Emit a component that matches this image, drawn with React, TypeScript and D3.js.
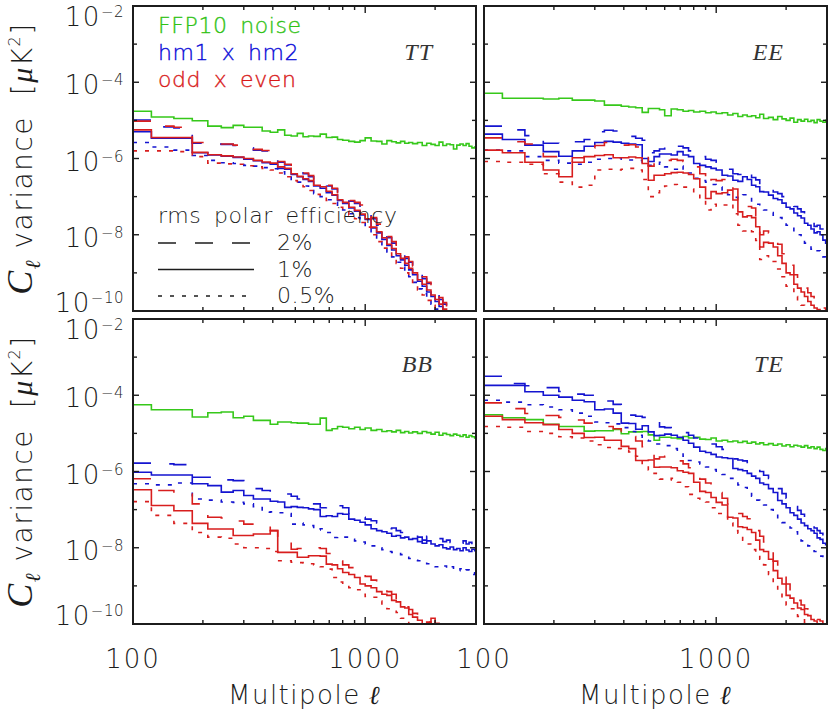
import React from 'react';
import * as d3 from 'd3';

// Multipole bin edges (ell)
const EDGES = [100,120,150,180,210,240,270,300,330,360,390,420,450,480,510,540,570,600,640,680,720,760,800,850,900,950,1000,1060,1120,1180,1240,1300,1360,1420,1480,1540,1600,1680,1760,1840,1920,2000,2080,2160,2240,2320,2400,2480,2560,2640,2720,2800,2880,2960,3040];

// log10 of C_ell variance [muK^2], one value per bin
// TT
const TT_NOISE = [-4.76,-4.91,-4.95,-5.01,-5.15,-5.19,-5.13,-5.18,-5.18,-5.28,-5.31,-5.25,-5.39,-5.41,-5.34,-5.43,-5.41,-5.42,-5.36,-5.45,-5.44,-5.50,-5.52,-5.55,-5.57,-5.53,-5.46,-5.54,-5.55,-5.62,-5.53,-5.56,-5.59,-5.55,-5.60,-5.58,-5.61,-5.58,-5.66,-5.60,-5.63,-5.66,-5.57,-5.66,-5.62,-5.64,-5.75,-5.65,-5.62,-5.66,-5.61,-5.68,-5.72,-5.70];
const TT_HM_2 = [-4.99,-5.17,-5.20,-5.60,-5.62,-5.63,-5.66,-5.72,-5.78,-5.80,-5.88,-6.10,-6.17,-6.25,-6.32,-6.40,-6.48,-6.58,-6.64,-6.72,-6.80,-6.92,-7.02,-7.12,-7.18,-7.25,-7.38,-7.58,-7.75,-7.92,-8.08,-8.22,-8.35,-8.50,-8.62,-8.72,-8.85,-9.00,-9.15,-9.28,-9.42,-9.55,-9.70,-9.82,-9.95,-10.1,-10.3];
const TT_HM_1 = [-5.30,-5.47,-5.47,-5.85,-5.91,-5.94,-5.97,-6.02,-6.06,-6.11,-6.15,-6.26,-6.28,-6.42,-6.48,-6.55,-6.60,-6.72,-6.78,-6.90,-6.96,-7.10,-7.18,-7.30,-7.38,-7.48,-7.60,-7.82,-7.95,-8.12,-8.28,-8.40,-8.55,-8.66,-8.80,-8.92,-9.05,-9.22,-9.35,-9.50,-9.62,-9.75,-9.88,-10.0,-10.15,-10.3];
const TT_HM_05 = [-5.58,-5.70,-5.78,-5.92,-6.05,-6.11,-6.13,-6.18,-6.20,-6.24,-6.27,-6.35,-6.45,-6.55,-6.62,-6.72,-6.82,-6.92,-7.00,-7.08,-7.15,-7.25,-7.35,-7.45,-7.55,-7.65,-7.78,-7.98,-8.15,-8.32,-8.45,-8.58,-8.72,-8.85,-8.98,-9.10,-9.25,-9.42,-9.55,-9.70,-9.82,-9.95,-10.1,-10.3];
const TT_OE_2 = [-5.02,-5.15,-5.18,-5.58,-5.60,-5.62,-5.65,-5.70,-5.76,-5.79,-5.86,-6.08,-6.15,-6.22,-6.30,-6.38,-6.45,-6.55,-6.60,-6.70,-6.78,-6.90,-7.00,-7.10,-7.15,-7.22,-7.35,-7.55,-7.72,-7.88,-8.05,-8.18,-8.32,-8.46,-8.58,-8.70,-8.82,-8.96,-9.10,-9.25,-9.38,-9.50,-9.65,-9.78,-9.90,-10.05,-10.2];
const TT_OE_1 = [-5.25,-5.45,-5.45,-5.84,-5.90,-5.93,-5.96,-6.00,-6.05,-6.09,-6.12,-6.22,-6.26,-6.40,-6.47,-6.53,-6.58,-6.70,-6.74,-6.86,-6.95,-7.08,-7.15,-7.28,-7.36,-7.46,-7.58,-7.80,-7.92,-8.08,-8.25,-8.36,-8.50,-8.62,-8.75,-8.88,-9.00,-9.18,-9.30,-9.45,-9.58,-9.70,-9.82,-9.95,-10.1,-10.25];
const TT_OE_05 = [-5.80,-5.80,-5.82,-5.95,-6.12,-6.14,-6.15,-6.19,-6.22,-6.26,-6.30,-6.38,-6.48,-6.58,-6.65,-6.74,-6.84,-6.94,-7.02,-7.10,-7.18,-7.28,-7.38,-7.48,-7.58,-7.68,-7.80,-8.00,-8.18,-8.35,-8.48,-8.62,-8.75,-8.88,-9.00,-9.12,-9.28,-9.45,-9.58,-9.72,-9.85,-10.0,-10.15];
// EE
const EE_NOISE = [-4.29,-4.42,-4.42,-4.44,-4.42,-4.47,-4.47,-4.49,-4.60,-4.60,-4.63,-4.65,-4.67,-4.79,-4.69,-4.69,-4.72,-4.88,-4.70,-4.72,-4.76,-4.74,-4.78,-4.76,-4.80,-4.78,-4.82,-4.80,-4.86,-4.82,-4.90,-4.86,-4.90,-4.88,-4.93,-4.84,-4.95,-4.92,-4.98,-4.90,-4.96,-5.00,-4.94,-5.05,-4.98,-5.02,-4.97,-5.03,-5.00,-5.06,-4.98,-5.02,-5.05,-5.00];
const EE_HM_2 = [-5.15,-5.25,-5.40,-5.60,-5.62,-5.56,-5.50,-5.30,-5.26,-5.28,-5.35,-5.42,-5.47,-5.52,-5.85,-5.80,-5.75,-5.65,-5.62,-5.68,-5.72,-5.80,-5.90,-5.95,-6.02,-6.05,-6.10,-6.22,-6.28,-6.40,-6.42,-6.30,-6.35,-6.50,-6.56,-6.70,-6.72,-6.80,-6.88,-6.92,-7.00,-7.10,-7.15,-7.26,-7.32,-7.40,-7.52,-7.58,-7.68,-7.78,-7.75,-7.85,-7.96,-8.02];
const EE_HM_1 = [-5.36,-5.50,-5.65,-5.82,-5.94,-5.80,-5.68,-5.58,-5.55,-5.57,-5.60,-5.62,-5.64,-6.00,-6.08,-5.95,-5.88,-5.88,-5.91,-5.82,-5.91,-5.95,-6.13,-6.18,-6.22,-6.26,-6.30,-6.44,-6.46,-6.57,-6.60,-6.48,-6.55,-6.70,-6.74,-6.87,-6.88,-6.96,-7.05,-7.08,-7.17,-7.28,-7.32,-7.43,-7.50,-7.56,-7.70,-7.75,-7.85,-7.95,-7.92,-8.00,-8.14,-8.22];
const EE_HM_05 = [-5.78,-5.80,-5.95,-6.05,-6.12,-6.15,-6.10,-6.02,-6.00,-5.98,-6.02,-6.04,-6.05,-6.12,-6.18,-6.15,-6.10,-6.22,-6.28,-6.20,-6.30,-6.38,-6.52,-6.58,-6.62,-6.68,-6.75,-6.90,-6.95,-7.02,-7.05,-6.95,-7.02,-7.15,-7.20,-7.32,-7.35,-7.42,-7.52,-7.55,-7.65,-7.75,-7.80,-7.92,-8.00,-8.08,-8.22,-8.28,-8.38,-8.45,-8.42,-8.50,-8.58,-8.62];
const EE_OE_2 = [-5.46,-5.56,-5.62,-5.95,-6.08,-5.98,-5.72,-5.66,-5.58,-5.62,-5.65,-5.64,-5.70,-5.80,-6.20,-6.08,-6.10,-6.05,-6.02,-6.05,-6.08,-6.12,-6.22,-6.40,-6.70,-6.55,-6.58,-6.55,-6.50,-6.80,-7.10,-7.30,-7.26,-7.30,-7.50,-8.00,-7.90,-7.95,-8.05,-8.25,-8.50,-8.72,-8.80,-9.05,-9.15,-9.28,-9.40,-9.52,-9.62,-9.70,-9.78,-9.85,-9.92,-10.0];
const EE_OE_1 = [-5.78,-5.85,-6.10,-6.30,-6.48,-6.10,-5.95,-5.92,-5.90,-5.98,-5.98,-5.96,-5.98,-6.13,-6.57,-6.44,-6.44,-6.40,-6.37,-6.36,-6.38,-6.42,-6.53,-6.75,-7.05,-6.87,-6.92,-6.90,-6.83,-7.09,-7.40,-7.53,-7.50,-7.55,-7.79,-8.32,-8.20,-8.22,-8.32,-8.55,-8.75,-9.00,-9.05,-9.30,-9.40,-9.50,-9.62,-9.75,-9.85,-9.92,-9.96,-10.0,-10.05,-10.1];
const EE_OE_05 = [-6.08,-6.10,-6.15,-6.40,-6.62,-6.75,-6.70,-6.30,-6.28,-6.30,-6.28,-6.26,-6.30,-6.55,-7.00,-6.90,-6.80,-6.72,-6.68,-6.70,-6.75,-6.80,-6.90,-7.10,-7.35,-7.20,-7.25,-7.22,-7.18,-7.45,-7.75,-7.90,-7.85,-7.92,-8.15,-8.65,-8.55,-8.60,-8.70,-8.90,-9.10,-9.35,-9.40,-9.62,-9.75,-9.85,-9.95,-10.05,-10.1];
// BB
const BB_NOISE = [-4.25,-4.38,-4.38,-4.57,-4.46,-4.44,-4.59,-4.55,-4.66,-4.66,-4.76,-4.70,-4.70,-4.72,-4.73,-4.73,-4.76,-4.76,-4.60,-4.92,-4.88,-4.82,-4.84,-4.88,-4.84,-4.90,-4.86,-4.92,-4.90,-4.95,-4.93,-4.96,-4.92,-4.98,-4.95,-4.99,-4.96,-5.00,-4.95,-4.98,-5.02,-4.97,-5.05,-5.00,-5.03,-5.06,-5.02,-5.05,-5.08,-5.04,-5.10,-5.06,-5.09,-5.12];
const BB_HM_2 = [-5.78,-5.80,-5.82,-6.15,-6.15,-6.22,-6.24,-6.35,-6.45,-6.50,-6.55,-6.58,-6.59,-6.65,-6.72,-6.80,-6.78,-6.85,-6.95,-6.92,-6.98,-6.90,-6.95,-7.10,-7.16,-7.20,-7.25,-7.29,-7.35,-7.42,-7.50,-7.48,-7.55,-7.60,-7.58,-7.66,-7.68,-7.72,-7.80,-7.70,-7.78,-7.82,-7.76,-7.84,-7.80,-7.86,-7.78,-7.85,-7.88,-7.82,-7.90,-7.86,-7.92,-7.88];
const BB_HM_1 = [-6.02,-6.09,-6.09,-6.32,-6.37,-6.54,-6.50,-6.63,-6.72,-6.72,-6.78,-6.80,-6.94,-6.92,-6.94,-6.95,-6.98,-7.00,-7.18,-7.16,-7.18,-7.10,-7.12,-7.25,-7.28,-7.33,-7.40,-7.50,-7.55,-7.58,-7.62,-7.70,-7.68,-7.74,-7.72,-7.78,-7.76,-7.84,-7.88,-7.82,-7.90,-7.95,-7.92,-8.00,-8.03,-7.98,-8.05,-8.02,-8.08,-8.00,-8.06,-8.10,-8.04,-8.08];
const BB_HM_05 = [-6.32,-6.35,-6.30,-6.72,-6.75,-6.80,-6.81,-6.85,-6.92,-7.07,-7.06,-7.08,-7.10,-7.38,-7.35,-7.40,-7.42,-7.53,-7.50,-7.60,-7.73,-7.70,-7.72,-7.78,-7.82,-7.85,-7.90,-7.95,-8.00,-8.05,-8.10,-8.12,-8.15,-8.18,-8.22,-8.28,-8.32,-8.34,-8.38,-8.42,-8.45,-8.50,-8.52,-8.48,-8.55,-8.50,-8.56,-8.60,-8.55,-8.62,-8.58,-8.65,-8.70,-8.62];
const BB_OE_2 = [-6.19,-6.50,-6.59,-6.85,-7.20,-7.22,-7.30,-7.38,-7.38,-7.40,-7.55,-7.70,-7.85,-8.04,-8.02,-7.98,-8.00,-8.00,-8.02,-8.15,-8.30,-8.35,-8.45,-8.52,-8.55,-8.62,-8.75,-8.85,-8.95,-9.05,-9.15,-9.22,-9.35,-9.44,-9.55,-9.62,-9.72,-9.85,-9.90,-9.95,-9.85,-10.0,-9.95,-10.1];
const BB_OE_1 = [-6.48,-6.89,-7.03,-7.36,-7.51,-7.51,-7.68,-7.68,-7.64,-7.64,-7.55,-8.12,-8.12,-8.12,-8.25,-8.25,-8.21,-8.21,-8.22,-8.43,-8.45,-8.55,-8.65,-8.70,-8.78,-8.95,-9.00,-9.05,-9.15,-9.22,-9.25,-9.38,-9.42,-9.55,-9.58,-9.75,-9.82,-9.90,-10.0,-9.95,-10.05,-9.98,-10.1,-10.05,-10.2];
const BB_OE_05 = [-6.79,-7.15,-7.36,-7.60,-7.72,-7.75,-7.90,-8.00,-8.00,-8.02,-8.10,-8.34,-8.34,-8.38,-8.39,-8.40,-8.42,-8.45,-8.50,-8.56,-8.78,-8.90,-8.97,-9.05,-9.10,-9.22,-9.28,-9.30,-9.40,-9.50,-9.60,-9.62,-9.70,-9.85,-9.90,-10.0,-10.05,-10.1];
// TE
const TE_NOISE = [-4.51,-4.59,-4.64,-4.76,-4.82,-4.82,-4.94,-4.93,-4.93,-4.90,-5.01,-4.96,-4.96,-4.95,-5.04,-5.18,-5.10,-5.10,-5.12,-5.14,-5.08,-5.12,-5.10,-5.15,-5.16,-5.12,-5.20,-5.18,-5.22,-5.20,-5.24,-5.21,-5.26,-5.23,-5.28,-5.25,-5.30,-5.27,-5.31,-5.28,-5.33,-5.30,-5.35,-5.31,-5.33,-5.36,-5.32,-5.38,-5.35,-5.40,-5.36,-5.42,-5.45,-5.40];
const TE_HM_2 = [-3.50,-3.69,-3.75,-3.80,-3.90,-3.97,-4.00,-4.05,-4.15,-4.24,-4.40,-4.52,-4.55,-4.58,-4.57,-4.60,-4.83,-4.85,-4.88,-4.90,-4.98,-5.05,-5.12,-5.18,-5.22,-5.28,-5.35,-5.42,-5.50,-5.67,-5.70,-5.72,-5.76,-5.80,-5.88,-6.00,-6.10,-6.18,-6.30,-6.45,-6.58,-6.70,-6.80,-6.92,-7.02,-7.12,-7.20,-7.30,-7.40,-7.48,-7.55,-7.62,-7.72,-7.80];
const TE_HM_1 = [-3.74,-3.74,-3.91,-4.00,-4.05,-4.13,-4.17,-4.38,-4.36,-4.47,-4.73,-4.74,-4.89,-4.80,-4.96,-5.06,-5.05,-5.02,-5.05,-5.10,-5.18,-5.26,-5.36,-5.47,-5.50,-5.55,-5.62,-5.64,-5.66,-5.92,-5.95,-5.98,-6.05,-6.12,-6.18,-6.30,-6.34,-6.45,-6.55,-6.76,-6.85,-6.95,-7.08,-7.15,-7.25,-7.35,-7.42,-7.50,-7.55,-7.62,-7.74,-7.78,-7.88,-7.92];
const TE_HM_05 = [-4.13,-4.18,-4.25,-4.31,-4.38,-4.47,-4.55,-4.70,-4.72,-4.75,-4.85,-4.95,-5.05,-5.18,-5.20,-5.28,-5.30,-5.32,-5.40,-5.50,-5.60,-5.71,-5.75,-5.80,-5.88,-5.95,-6.02,-6.08,-6.18,-6.28,-6.35,-6.42,-6.55,-6.65,-6.75,-6.80,-6.88,-7.00,-7.10,-7.25,-7.34,-7.40,-7.48,-7.58,-7.70,-7.82,-7.90,-7.95,-8.02,-8.10,-8.18,-8.22,-8.28,-8.25];
const TE_OE_2 = [-4.20,-4.35,-4.48,-4.53,-4.58,-4.65,-4.73,-4.76,-4.82,-4.88,-4.95,-5.08,-5.20,-5.35,-5.45,-5.67,-5.62,-5.60,-5.65,-5.72,-5.80,-5.90,-6.05,-6.20,-6.30,-6.45,-6.55,-6.70,-6.85,-6.95,-7.10,-7.18,-7.24,-7.45,-7.55,-7.70,-7.85,-8.05,-8.35,-8.55,-8.75,-8.95,-9.10,-9.25,-9.38,-9.50,-9.60,-9.68,-9.75,-9.80,-9.88,-9.92,-10.0,-10.05];
const TE_OE_1 = [-4.55,-4.64,-4.72,-4.77,-4.90,-5.00,-5.11,-5.10,-5.18,-5.18,-5.34,-5.40,-5.71,-5.71,-5.70,-5.89,-5.88,-5.88,-5.90,-5.98,-6.02,-6.05,-6.28,-6.52,-6.55,-6.68,-6.81,-6.88,-7.20,-7.22,-7.45,-7.47,-7.52,-7.60,-7.80,-8.05,-8.10,-8.30,-8.60,-8.80,-8.95,-9.25,-9.32,-9.45,-9.58,-9.62,-9.75,-9.78,-9.88,-9.92,-10.0,-10.02,-10.08,-10.1];
const TE_OE_05 = [-4.82,-4.84,-4.95,-5.00,-5.09,-5.12,-5.20,-5.30,-5.37,-5.40,-5.45,-5.49,-5.60,-5.79,-5.96,-6.05,-6.20,-6.22,-6.18,-6.28,-6.40,-6.60,-6.70,-6.76,-6.80,-6.95,-7.10,-7.16,-7.35,-7.55,-7.62,-7.80,-7.90,-8.05,-8.16,-8.30,-8.45,-8.70,-8.95,-9.15,-9.35,-9.50,-9.60,-9.70,-9.80,-9.85,-9.95,-10.0,-10.05,-10.1];

const PANEL_LABELS = ['TT', 'EE', 'BB', 'TE'];
const NOISE = [TT_NOISE, EE_NOISE, BB_NOISE, TE_NOISE];
const HM = [[TT_HM_2, TT_HM_1, TT_HM_05], [EE_HM_2, EE_HM_1, EE_HM_05], [BB_HM_2, BB_HM_1, BB_HM_05], [TE_HM_2, TE_HM_1, TE_HM_05]];
const OE = [[TT_OE_2, TT_OE_1, TT_OE_05], [EE_OE_2, EE_OE_1, EE_OE_05], [BB_OE_2, BB_OE_1, BB_OE_05], [TE_OE_2, TE_OE_1, TE_OE_05]];

const LEGEND_SERIES = ['FFP10 noise', 'hm1 x hm2', 'odd x even'];
const LEGEND_EFF = ['2%', '1%', '0.5%'];
const Y_EXPONENTS = [-10, -9, -8, -7, -6, -5, -4, -3, -2];
const X_TICKS = [100, 200, 300, 400, 500, 600, 700, 800, 900, 1000, 2000, 3000];
const X_LABELS = [100, 1000];

const GREEN = '#36c81a';
const BLUE = '#1414d0';
const RED = '#d81e1e';
const LEGEND_COLORS = ['#2fc214', '#0a0ad8', '#d81818'];
const DASHES = ['18,19', '', '4,8'];
const SANS = "'DejaVu Sans', sans-serif";
const SERIF = "'Liberation Serif', 'DejaVu Serif', serif";
const INK = '#1c1c1c';

const PW = 343;
const PH = 305;
const ORIGINS: [number, number][] = [[133, 6], [484, 6], [133, 319], [484, 319]];

export default function App() {
  const x = d3.scaleLog().domain([100, 3000]).range([0, PW]);
  const y = d3.scaleLog().domain([1e-10, 1e-2]).range([PH, 0]);
  const line = d3.line<[number, number]>().x(d => x(d[0])).y(d => y(d[1])).curve(d3.curveStepAfter);
  const stepPath = (vals: number[]) => {
    const n = Math.min(vals.length, EDGES.length - 1);
    const pts: [number, number][] = [];
    for (let i = 0; i < n; i++) pts.push([EDGES[i], Math.pow(10, vals[i])]);
    pts.push([EDGES[n], Math.pow(10, vals[n - 1])]);
    return line(pts) || '';
  };

  return (
    <svg width={830} height={710} style={{ position: 'absolute', left: 0, top: 0, background: '#fff' }}
      fontFamily={SANS}>
      <defs>
        {ORIGINS.map((o, p) => (
          <clipPath id={`clip${p}`} key={p}><rect x={0} y={0} width={PW} height={PH} /></clipPath>
        ))}
      </defs>
      {ORIGINS.map((o, p) => {
        const isLeft = p % 2 === 0;
        const isBottom = p >= 2;
        return (
          <g key={p} transform={`translate(${o[0]},${o[1]})`}>
            <g clipPath={`url(#clip${p})`} fill="none" strokeWidth={1.6}>
              <path d={stepPath(NOISE[p])} stroke={GREEN} />
              {HM[p].map((s, k) => (
                <path key={'h' + k} d={stepPath(s)} stroke={BLUE} strokeDasharray={DASHES[k] || undefined} />
              ))}
              {OE[p].map((s, k) => (
                <path key={'o' + k} d={stepPath(s)} stroke={RED} strokeDasharray={DASHES[k] || undefined} />
              ))}
            </g>
            {/* ticks */}
            <g stroke={INK} strokeWidth={1.4}>
              {Y_EXPONENTS.map(e => {
                const yy = y(Math.pow(10, e));
                const len = e % 2 === 0 ? 6 : 4;
                return (
                  <g key={e}>
                    <line x1={0} x2={len} y1={yy} y2={yy} />
                    <line x1={PW - len} x2={PW} y1={yy} y2={yy} />
                  </g>
                );
              })}
              {X_TICKS.map(t => {
                const xx = x(t);
                const len = t === 100 || t === 1000 ? 7 : 4;
                return (
                  <g key={t}>
                    <line x1={xx} x2={xx} y1={0} y2={len} />
                    <line x1={xx} x2={xx} y1={PH - len} y2={PH} />
                  </g>
                );
              })}
            </g>
            <rect x={0} y={0} width={PW} height={PH} fill="none" stroke={INK} strokeWidth={2} />
            <text x={PW - 43} y={isBottom ? 53 : 54} textAnchor="end" fontFamily={SERIF} fontStyle="italic"
              fontSize={24} fill="#333" letterSpacing={1}>{PANEL_LABELS[p]}</text>
            {isLeft && Y_EXPONENTS.filter(e => e % 2 === 0).map((e, i, arr) => {
              const yy = y(Math.pow(10, e));
              const off = i === arr.length - 1 ? 20 : i === 0 ? 1 : 12;
              return (
                <text key={e} x={-9} y={yy + off} textAnchor="end" fontSize={26} fontWeight={300} fill={INK}
                  letterSpacing={1.5}>
                  10<tspan dy={-9} fontSize={15} letterSpacing={0.5}>{'\u2212' + String(-e)}</tspan>
                </text>
              );
            })}
            {isBottom && X_LABELS.map(t => (
              <text key={t} x={x(t)} y={PH + 44} textAnchor="middle" fontSize={26} fontWeight={300} fill={INK}
                letterSpacing={2}>{t}</text>
            ))}
            {isBottom && (
              <text x={PW / 2} y={PH + 80} textAnchor="middle" fontSize={26} fontWeight={300} fill={INK}
                letterSpacing={1.5}>
                Multipole<tspan fontFamily={SERIF} fontStyle="italic">{'\u00a0\u2113'}</tspan>
              </text>
            )}
            {isLeft && (
              <text transform={`translate(-101,${PH / 2}) rotate(-90)`} textAnchor="middle" fontSize={28}
                fontWeight={300} fill={INK} letterSpacing={1.5}>
                <tspan fontFamily={SERIF} fontStyle="italic" fontSize={36}>C</tspan>
                <tspan fontFamily={SERIF} fontStyle="italic" fontSize={21} dy={8}>{'\u2113'}</tspan>
                <tspan dy={-8}>{'\u00a0variance\u00a0\u00a0['}</tspan>
                <tspan fontFamily={SERIF} fontStyle="italic" fontSize={30}>{'\u03bc'}</tspan>
                <tspan>K</tspan>
                <tspan fontSize={16} dy={-12}>2</tspan>
                <tspan dy={12}>]</tspan>
              </text>
            )}
          </g>
        );
      })}
      {/* series legend */}
      <g fontSize={22} fontWeight={300} wordSpacing={5} letterSpacing={0.6}>
        {LEGEND_SERIES.map((t, i) => (
          <text key={t} x={158} y={33 + i * 27} fill={LEGEND_COLORS[i]} stroke={LEGEND_COLORS[i]}
            strokeWidth={0.35}>{t}</text>
        ))}
      </g>
      {/* efficiency legend */}
      <g fontSize={22} fontWeight={300} fill={INK} letterSpacing={0.6}>
        <text x={158} y={223} wordSpacing={5}>rms polar efficiency</text>
        {LEGEND_EFF.map((t, i) => (
          <g key={t}>
            <line x1={158} x2={254} y1={243 + i * 26.5} y2={243 + i * 26.5} stroke={INK} strokeWidth={1.5}
              strokeDasharray={DASHES[i] || undefined} />
            <text x={277} y={250 + i * 26.5}>{t}</text>
          </g>
        ))}
      </g>
    </svg>
  );
}
